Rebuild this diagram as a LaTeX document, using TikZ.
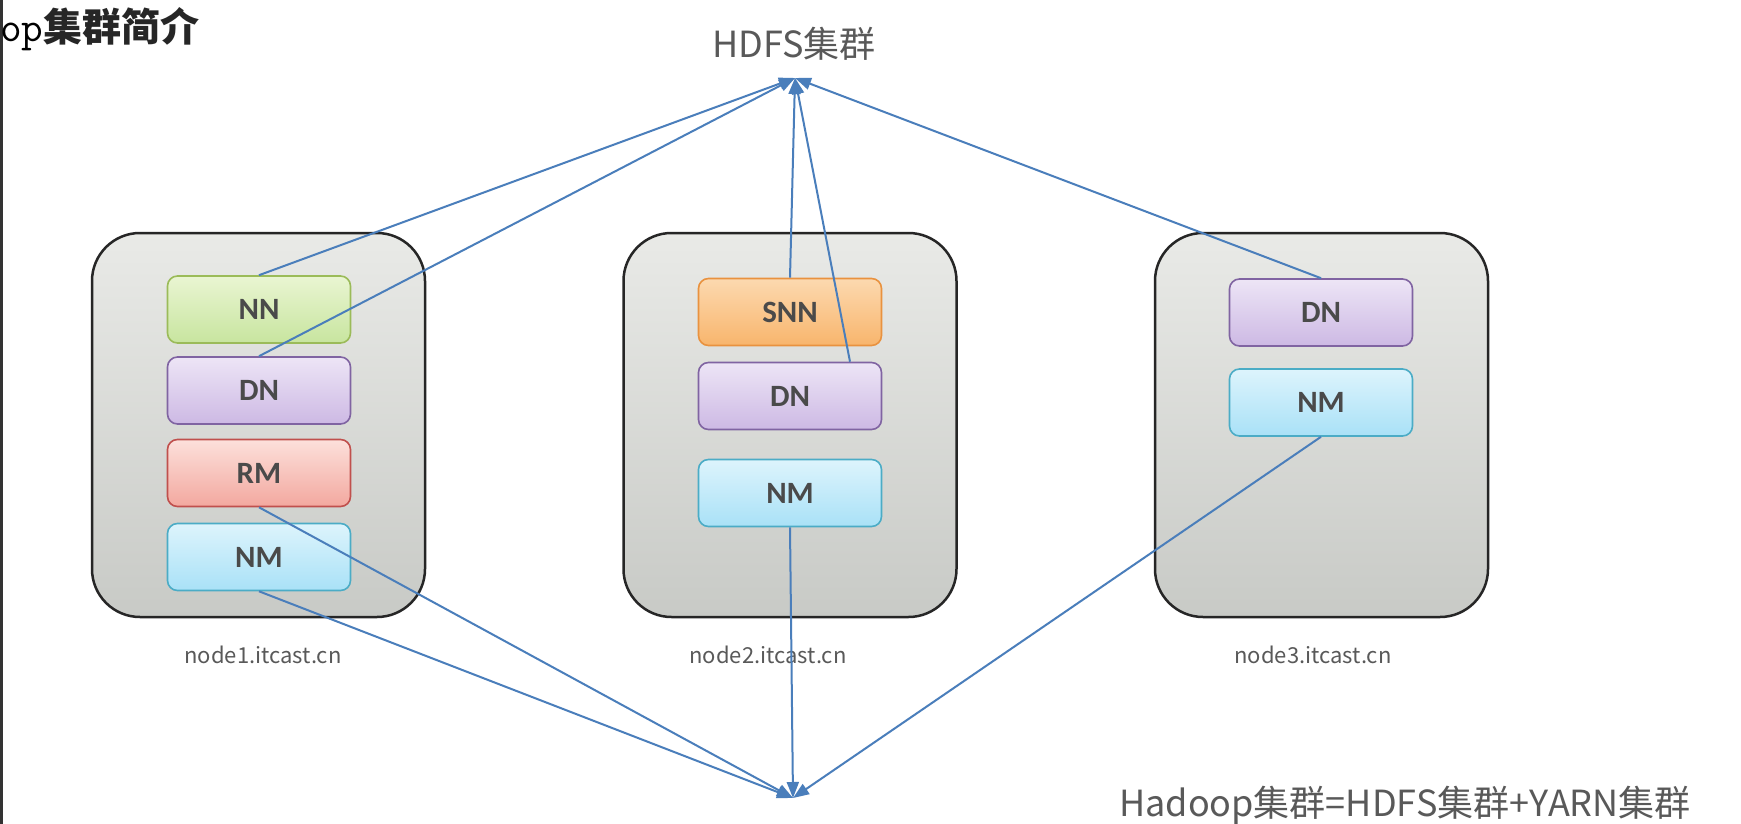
\documentclass[tikz,border=0pt]{standalone}
\usepackage{fontspec}
\usetikzlibrary{arrows.meta}
\newfontfamily\cjk{Noto Sans CJK SC}
\newfontfamily\tagfont{Carlito}
\definecolor{linkblue}{HTML}{4A7EBB}
\definecolor{textgray}{HTML}{595959}
\definecolor{taggray}{HTML}{4A4A4A}
% role colours: top shade, bottom shade, border
\definecolor{nnTop}{HTML}{E9F5D2}\definecolor{nnBot}{HTML}{C8E59F}\definecolor{nnLine}{HTML}{9BBB59}
\definecolor{dnTop}{HTML}{EDE5F6}\definecolor{dnBot}{HTML}{CDB9E4}\definecolor{dnLine}{HTML}{8064A2}
\definecolor{rmTop}{HTML}{FCE0DB}\definecolor{rmBot}{HTML}{F3A89F}\definecolor{rmLine}{HTML}{C0504D}
\definecolor{nmTop}{HTML}{DDF4FC}\definecolor{nmBot}{HTML}{A9E1F7}\definecolor{nmLine}{HTML}{4BACC6}
\definecolor{snTop}{HTML}{FCD9B0}\definecolor{snBot}{HTML}{F8B56C}\definecolor{snLine}{HTML}{E9923F}
\definecolor{hostTop}{HTML}{E9EAE7}\definecolor{hostBot}{HTML}{C8CAC6}
\begin{document}
\begin{tikzpicture}[x=1pt,y=-1pt,
  host/.style={draw=black!85, line width=2.5pt, rounded corners=48pt,
    top color=hostTop, bottom color=hostBot,
    minimum width=333pt, minimum height=384pt, inner sep=0pt},
  svc/.style={line width=1.6pt, rounded corners=10pt,
    minimum width=183pt, minimum height=67pt, inner sep=0pt,
    font=\tagfont\bfseries\fontsize{31}{33}\selectfont, text=taggray},
  nnrole/.style={svc, draw=nnLine, top color=nnTop, bottom color=nnBot},
  dnrole/.style={svc, draw=dnLine, top color=dnTop, bottom color=dnBot},
  rmrole/.style={svc, draw=rmLine, top color=rmTop, bottom color=rmBot},
  nmrole/.style={svc, draw=nmLine, top color=nmTop, bottom color=nmBot},
  snrole/.style={svc, draw=snLine, top color=snTop, bottom color=snBot},
  hostname/.style={anchor=base, text=textgray, inner sep=0pt,
    font=\cjk\fontsize{22}{24}\selectfont},
  link/.style={draw=linkblue, line width=2pt,
    -{Triangle[length=16pt,width=12pt]}}
]
\clip (0,0) rectangle (1741,824);
\fill[white] (0,0) rectangle (1741,824);
\fill[black!80] (0,0) rectangle (3,824);

% heading
\node[anchor=base west, inner sep=0pt] (title) at (0,42)
  {{\ttfamily\fontsize{42}{44}\selectfont op}{\cjk\bfseries\fontsize{39}{41}\selectfont\color{black!85}集群简介}};

% cluster names
\node[anchor=base, inner sep=0pt, text=textgray, font=\cjk\fontsize{36}{40}\selectfont] (hdfs) at (794,58) {HDFS集群};
\node[anchor=base west, inner sep=0pt, text=textgray,
  font=\cjk\fontsize{36}{40}\selectfont] (sum) at (1119,816) {Hadoop集群=HDFS集群+YARN集群};

\coordinate (hdfsin) at (795,78);
\coordinate (yarnin) at (793,798);

% hosts
\node[host] (h1) at (258.5,425) {};
\node[host] (h2) at (790,425) {};
\node[host] (h3) at (1321.5,425) {};

\node[hostname] (l1) at (263,663) {node1.itcast.cn};
\node[hostname] (l2) at (768,663) {node2.itcast.cn};
\node[hostname] (l3) at (1313,663) {node3.itcast.cn};

% roles on node1
\node[nnrole] (nn1) at (259,309.5) {NN};
\node[dnrole] (dn1) at (259,390.5) {DN};
\node[rmrole] (rm1) at (259,473) {RM};
\node[nmrole] (nm1) at (259,557) {NM};

% roles on node2
\node[snrole] (snn2) at (790,312) {SNN};
\node[dnrole] (dn2) at (790,396) {DN};
\node[nmrole] (nm2) at (790,493) {NM};

% roles on node3
\node[dnrole] (dn3) at (1321,312.5) {DN};
\node[nmrole] (nm3) at (1321,402.5) {NM};

% HDFS members
\draw[link] (nn1.north) -- (hdfsin);
\draw[link] (dn1.north) -- (hdfsin);
\draw[link] (snn2.north) -- (hdfsin);
\draw[link] ([xshift=60pt]dn2.north) -- (hdfsin);
\draw[link] (dn3.north) -- (hdfsin);

% YARN members
\draw[link] (rm1.south) -- (yarnin);
\draw[link] (nm1.south) -- (yarnin);
\draw[link] (nm2.south) -- (yarnin);
\draw[link] (nm3.south) -- (yarnin);
\end{tikzpicture}
\end{document}
